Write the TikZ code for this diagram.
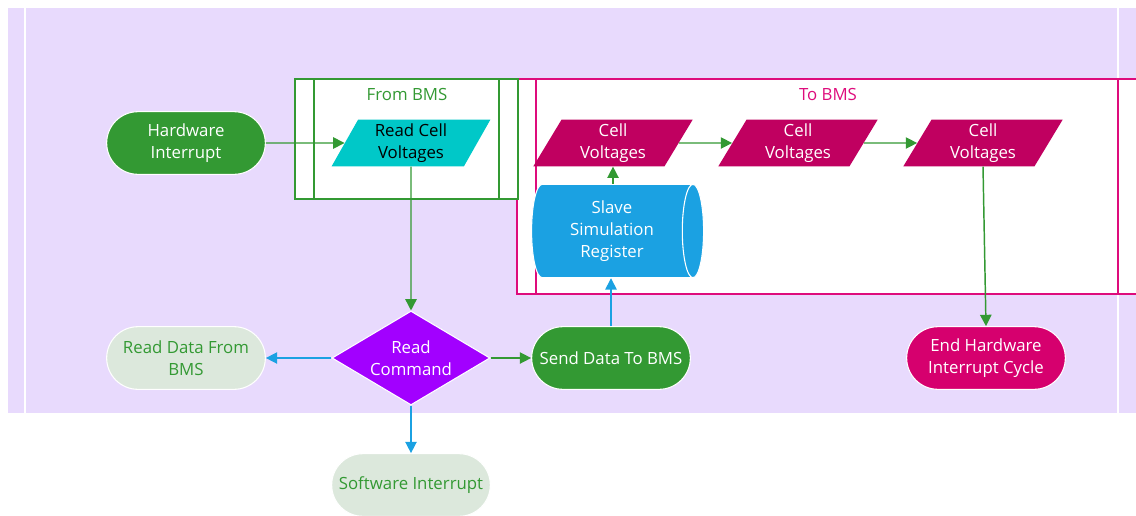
\documentclass[tikz,border=0pt]{standalone}
\usepackage{fontspec}
\setmainfont{Open Sans}
\usetikzlibrary{shapes.geometric,arrows.meta}
\definecolor{lanebg}{RGB}{232,218,253}
\definecolor{flowgreen}{RGB}{51,153,51}
\definecolor{flowblue}{RGB}{27,161,226}
\definecolor{tobms}{RGB}{222,12,124}
\definecolor{cellred}{RGB}{192,0,96}
\definecolor{endred}{RGB}{214,0,110}
\definecolor{readcyan}{RGB}{0,200,200}
\definecolor{cmdpurple}{RGB}{162,0,255}
\definecolor{palegreen}{RGB}{220,232,220}

\begin{document}
\begin{tikzpicture}[x=0.75pt,y=-0.75pt,
    font=\fontsize{12.6}{16.5}\selectfont,
    terminal/.style={rectangle,rounded corners=23.5pt,minimum width=119pt,minimum height=47pt,
        draw=white,line width=0.8pt,align=center,inner sep=0pt},
    datain/.style={trapezium,trapezium left angle=65,trapezium right angle=115,
        trapezium stretches=true,minimum width=120pt,minimum height=35pt,
        align=center,inner sep=0pt},
    garrow/.style={draw=flowgreen,line width=1.1pt,-{Triangle[length=8.5pt,width=8.5pt]}},
    barrow/.style={draw=flowblue,line width=1.1pt,-{Triangle[length=8.5pt,width=8.5pt]}}]
    \useasboundingbox (0,0) rectangle (1136,515);

    \fill[lanebg] (8,8) rectangle (1136,413);
    \draw[white,line width=1.2pt] (25,8) -- (25,413);
    \draw[white,line width=1.2pt] (1118,8) -- (1118,413);

    \draw[tobms,fill=white,line width=1.1pt] (517,79) rectangle (1150,294);
    \draw[tobms,line width=1.1pt] (536,79) -- (536,294);
    \draw[tobms,line width=1.1pt] (1118,79) -- (1118,294);
    \node[text=tobms] (tobmslabel) at (828,94) {To BMS};

    \draw[flowgreen,fill=white,line width=1.1pt] (295,79) rectangle (518,199);
    \draw[flowgreen,line width=1.1pt] (314,79) -- (314,199);
    \draw[flowgreen,line width=1.1pt] (499,79) -- (499,199);
    \node[text=flowgreen] (frombmslabel) at (407,94) {From BMS};

    \node[terminal,fill=flowgreen,text=white] (hwint) at (186,143) {Hardware\\Interrupt};
    \node[datain,fill=readcyan,text=black] (readcv) at (411,143) {Read Cell\\Voltages};
    \node[datain,fill=cellred,text=white] (cellA) at (613,143) {Cell\\Voltages};
    \node[datain,fill=cellred,text=white] (cellB) at (798,143) {Cell\\Voltages};
    \node[datain,fill=cellred,text=white] (cellC) at (983,143) {Cell\\Voltages};

    \node[cylinder,aspect=0.35,minimum width=70pt,minimum height=129pt,
        cylinder uses custom fill,cylinder body fill=flowblue,cylinder end fill=flowblue,
        draw=white,line width=0.8pt,text=white,align=center,inner sep=0pt]
        (slave) at (612,231) {Slave\\Simulation\\Register};

    \node[diamond,aspect=1.68,fill=cmdpurple,draw=white,line width=0.8pt,text=white,align=center,
        minimum width=118.5pt,minimum height=70.5pt,inner sep=0pt]
        (readcmd) at (411,358) {Read\\Command};
    \node[terminal,fill=palegreen,text=flowgreen] (readdata) at (186,358) {Read Data From\\BMS};
    \node[terminal,fill=flowgreen,text=white] (senddata) at (611,358) {Send Data To BMS};
    \node[terminal,fill=endred,text=white] (endhw) at (986,358) {End Hardware\\Interrupt Cycle};
    \node[terminal,fill=palegreen,text=flowgreen] (swint) at (411,485) {Software Interrupt};

    \draw[garrow] (hwint) -- (readcv);
    \draw[garrow] (readcv.south) -- (readcmd.north);
    \draw[barrow] (readcmd.west) -- (readdata.east);
    \draw[garrow] (readcmd.east) -- (senddata.west);
    \draw[barrow] (readcmd.south) -- (swint.north);
    \draw[barrow] (senddata.north) -- (senddata.north |- slave.south);
    \draw[garrow] (cellA.south |- slave.north) -- (cellA.south);
    \draw[garrow] (cellA) -- (cellB);
    \draw[garrow] (cellB) -- (cellC);
    \draw[garrow] (cellC.south) -- (endhw.north);
\end{tikzpicture}
\end{document}
